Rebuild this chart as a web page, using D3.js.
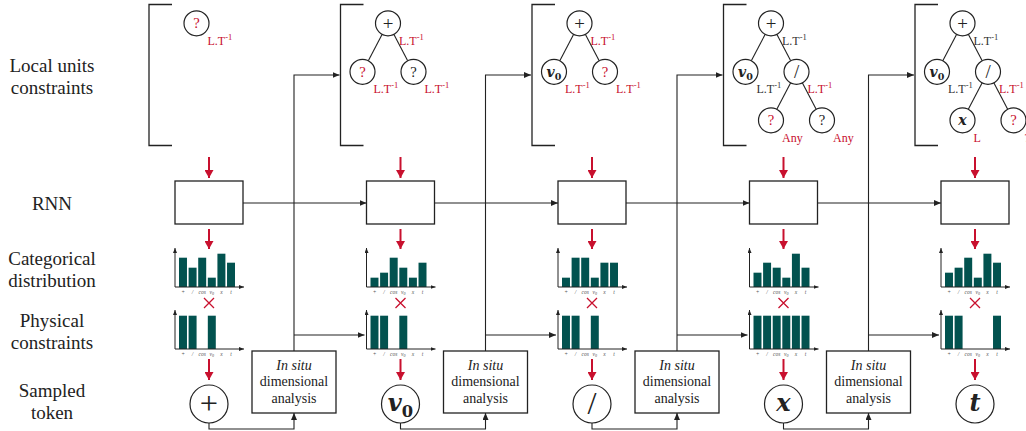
<!DOCTYPE html>
<html><head><meta charset="utf-8">
<script src="https://cdn.jsdelivr.net/npm/d3@7"></script>
<style>body{margin:0;background:#fff}svg{display:block}</style>
</head><body>
<svg id="c" width="1026" height="431"></svg>
<script>
// ---- data ----
const rowLabels = [["Local units","constraints"],["RNN"],["Categorical","distribution"],["Physical","constraints"],["Sampled","token"]];
const tokens = ["+", "/", "cos", "v0", "x", "t"];
const sampled = ["+", "v0", "/", "x", "t"];
const dist1 = [0.88, 0.58, 0.88, 0.28, 1.0, 0.73];
const dist2 = [0.28, 0.43, 0.88, 0.58, 0.28, 0.73];
const dist3 = [0.28, 0.88, 0.88, 0.28, 0.73, 0.73];
const dist4 = [0.43, 0.73, 0.58, 0.28, 1.0, 0.58];
const dist5 = [0.43, 0.58, 0.88, 0.28, 1.0, 0.73];
const mask1 = [1, 1, 0, 1, 0, 0];
const mask2 = [1, 1, 0, 1, 0, 0];
const mask3 = [1, 1, 0, 1, 0, 0];
const mask4 = [1, 1, 1, 1, 1, 1];
const mask5 = [1, 1, 0, 0, 0, 1];
const dists = [dist1, dist2, dist3, dist4, dist5];
const masks = [mask1, mask2, mask3, mask4, mask5];
// trees: node label, parent index, side, label red?, unit, unit red?
const tree1 = [{t:"?", p:-1, s:0, red:true, u:"L.T-1", ured:true}];
const tree2 = [{t:"+", p:-1, s:0, red:false, u:"L.T-1", ured:true},
               {t:"?", p:0, s:-1, red:true, u:"L.T-1", ured:true},
               {t:"?", p:0, s:1, red:false, u:"L.T-1", ured:true}];
const tree3 = [{t:"+", p:-1, s:0, red:false, u:"L.T-1", ured:true},
               {t:"v0", p:0, s:-1, red:false, u:"L.T-1", ured:true},
               {t:"?", p:0, s:1, red:true, u:"L.T-1", ured:true}];
const tree4 = [{t:"+", p:-1, s:0, red:false, u:"L.T-1", ured:false},
               {t:"v0", p:0, s:-1, red:false, u:"L.T-1", ured:false},
               {t:"/", p:0, s:1, red:false, u:"L.T-1", ured:true},
               {t:"?", p:2, s:-1, red:true, u:"Any", ured:true},
               {t:"?", p:2, s:1, red:false, u:"Any", ured:true}];
const tree5 = [{t:"+", p:-1, s:0, red:false, u:"L.T-1", ured:false},
               {t:"v0", p:0, s:-1, red:false, u:"L.T-1", ured:false},
               {t:"/", p:0, s:1, red:false, u:"L.T-1", ured:true},
               {t:"x", p:2, s:-1, red:false, u:"L", ured:true},
               {t:"?", p:2, s:1, red:true, u:"?", ured:true}];
const trees = [tree1, tree2, tree3, tree4, tree5];

// ---- drawing ----
const RED = "#c8102e", BAR = "#02524f", INK = "#222";
const SERIF = "Liberation Serif, Times New Roman, Nimbus Roman, DejaVu Serif, serif";
const MATH = "DejaVu Serif, Liberation Serif, serif";
const svg = d3.select("#c");
const defs = svg.append("defs");
function marker(id, color, w, h) {
  defs.append("marker").attr("id", id).attr("viewBox", `0 0 ${w} ${h}`)
    .attr("refX", w).attr("refY", h/2).attr("markerWidth", w).attr("markerHeight", h)
    .attr("markerUnits", "userSpaceOnUse").attr("orient", "auto")
    .append("path").attr("d", `M0,0 L${w},${h/2} L0,${h} Z`).attr("fill", color);
}
marker("ab", INK, 7, 6);
marker("as", INK, 5, 4);
marker("ar", RED, 8, 9);

const colX = d3.scaleLinear().domain([0, 4]).range([209, 975]);
const y = d3.scaleLinear().domain([0, 1]).range([0, 33.3]);

// row labels
const rowY = [[65, 87], [203], [258, 280], [320, 342], [390, 412]];
rowLabels.forEach((lines, r) => lines.forEach((l, k) => {
  svg.append("text").attr("x", 52).attr("y", rowY[r][k]).attr("dy", "0.35em")
    .attr("text-anchor", "middle").style("font-family", SERIF).attr("font-size", 19)
    .attr("fill", INK).text(l);
}));

function redArrow(x, y1, y2) {
  svg.append("line").attr("x1", x).attr("x2", x).attr("y1", y1).attr("y2", y2)
    .attr("stroke", RED).attr("stroke-width", 2).attr("marker-end", "url(#ar)");
}
function unitText(g, x, yy, u, red) {
  const t = g.append("text").attr("x", x).attr("y", yy).attr("dy", "0.35em")
    .style("font-family", SERIF).attr("font-size", 12).attr("fill", red ? RED : "#333");
  if (u.endsWith("-1")) {
    t.append("tspan").text(u.slice(0, -2));
    t.append("tspan").attr("dy", -5).attr("font-size", 8.5).text("-1");
  } else t.text(u);
}
function sym(g, x, yy, s, size, color) {
  const t = g.append("text").attr("x", x).attr("y", yy).attr("dy", "0.35em")
    .attr("text-anchor", "middle").attr("fill", color);
  if (s === "v0") {
    t.style("font-family", MATH).attr("font-style", "italic").attr("font-weight", "bold")
      .attr("font-size", size);
    t.append("tspan").text("v");
    t.append("tspan").attr("font-style", "normal").attr("font-weight", "bold").attr("font-size", size*0.68)
      .attr("dy", size*0.22).text("0");
  } else if (s === "x" || s === "t") {
    t.style("font-family", MATH).attr("font-style", "italic").attr("font-weight", "bold")
      .attr("font-size", size).text(s);
  } else if (s === "?") {
    t.style("font-family", SERIF).attr("font-size", size * 1.05).text(s);
  } else {
    t.style("font-family", SERIF).attr("font-size", size * 1.35).text(s);
  }
}

const R = 12.5, DX = 25.5, DY = 48.5;
for (let i = 0; i < 5; i++) {
  const cx = colX(i);
  const g = svg.append("g");
  // bracket
  const bx = cx - 60;
  g.append("path").attr("d", `M${bx+23},4.5 H${bx} V145.5 H${bx+23}`)
    .attr("fill", "none").attr("stroke", INK).attr("stroke-width", 1.3);
  // tree
  const nodes = trees[i].map(n => ({...n}));
  nodes.forEach(n => {
    if (n.p < 0) { n.x = cx - 12.5; n.y = 23.3; }
    else { n.x = nodes[n.p].x + n.s * DX; n.y = nodes[n.p].y + DY; }
  });
  nodes.forEach(n => {
    if (n.p >= 0) {
      const p = nodes[n.p];
      const dx = n.x - p.x, dy = n.y - p.y, L = Math.hypot(dx, dy);
      g.append("line").attr("x1", p.x + dx/L*R).attr("y1", p.y + dy/L*R)
        .attr("x2", n.x - dx/L*R).attr("y2", n.y - dy/L*R)
        .attr("stroke", INK).attr("stroke-width", 1.1);
    }
  });
  nodes.forEach(n => {
    g.append("circle").attr("cx", n.x).attr("cy", n.y).attr("r", R)
      .attr("fill", "#fff").attr("stroke", INK).attr("stroke-width", 1.2);
    sym(g, n.x, n.y, n.t, 14, n.red ? RED : INK);
    unitText(g, n.x + 11, n.y + 17, n.u, n.ured);
  });
  // red arrow to RNN
  redArrow(cx, 157, 178);
  // RNN box
  g.append("rect").attr("x", cx - 34).attr("y", 181).attr("width", 68).attr("height", 43)
    .attr("fill", "#fff").attr("stroke", INK).attr("stroke-width", 1.3);
  if (i < 4) {
    g.append("line").attr("x1", cx + 34).attr("x2", colX(i+1) - 34).attr("y1", 203).attr("y2", 203)
      .attr("stroke", INK).attr("stroke-width", 1.1).attr("marker-end", "url(#ab)");
  }
  redArrow(cx, 229, 249);
  // charts
  const xb = d3.scaleBand().domain(tokens).range([cx - 30, cx + 26]).paddingInner(0.17);
  [[287, dists[i]], [349, masks[i]]].forEach(([base, vals]) => {
    g.selectAll(null).data(vals).join("rect")
      .attr("x", (d, k) => xb(tokens[k])).attr("width", xb.bandwidth())
      .attr("y", d => base - y(d)).attr("height", d => y(d)).attr("fill", BAR);
    g.append("line").attr("x1", cx - 34).attr("x2", cx - 34).attr("y1", base).attr("y2", base - 39)
      .attr("stroke", INK).attr("stroke-width", 1).attr("marker-end", "url(#as)");
    g.append("line").attr("x1", cx - 34).attr("x2", cx + 35).attr("y1", base).attr("y2", base)
      .attr("stroke", INK).attr("stroke-width", 1).attr("marker-end", "url(#as)");
    const ax = g.append("g").style("font-family", SERIF).attr("font-size", 5.5).attr("fill", "#555")
      .attr("font-style", "italic").attr("text-anchor", "middle");
    tokens.forEach(tk => {
      const t = ax.append("text").attr("x", xb(tk) + xb.bandwidth()/2).attr("y", base + 6.5);
      if (tk === "v0") { t.append("tspan").text("v"); t.append("tspan").attr("font-size", 4).attr("dy", 1).text("0"); }
      else t.text(tk);
    });
  });
  // red cross
  g.append("path").attr("d", `M${cx-5},298 L${cx+5},308 M${cx+5},298 L${cx-5},308`)
    .attr("stroke", RED).attr("stroke-width", 1.3).attr("fill", "none");
  redArrow(cx, 359, 380);
  // token
  g.append("circle").attr("cx", cx).attr("cy", 404).attr("r", 19)
    .attr("fill", "#fff").attr("stroke", INK).attr("stroke-width", 1.2);
  sym(g, cx, 403, sampled[i], 24, INK);
  // in-situ analysis
  if (i < 4) {
    const vx = cx + 85, nx = colX(i + 1);
    g.append("polyline").attr("points", `${vx},351 ${vx},75 ${nx-61},75`)
      .attr("fill", "none").attr("stroke", INK).attr("stroke-width", 1.1).attr("marker-end", "url(#ab)");
    g.append("line").attr("x1", vx).attr("x2", nx - 36).attr("y1", 335).attr("y2", 335)
      .attr("stroke", INK).attr("stroke-width", 1.1).attr("marker-end", "url(#ab)");
    g.append("polyline").attr("points", `${cx},423 ${cx},429 ${vx},429 ${vx},413`)
      .attr("fill", "none").attr("stroke", INK).attr("stroke-width", 1.1).attr("marker-end", "url(#ab)");
    g.append("rect").attr("x", vx - 42).attr("y", 351).attr("width", 84).attr("height", 62)
      .attr("fill", "#fff").attr("stroke", INK).attr("stroke-width", 1.3);
    const lines = [["In situ", true], ["dimensional", false], ["analysis", false]];
    lines.forEach(([l, it], k) => {
      g.append("text").attr("x", vx).attr("y", 365 + k * 16.5).attr("dy", "0.35em")
        .attr("text-anchor", "middle").style("font-family", SERIF).attr("font-size", 14)
        .attr("font-style", it ? "italic" : "normal").attr("fill", INK).text(l);
    });
  }
}
</script>
</body></html>
